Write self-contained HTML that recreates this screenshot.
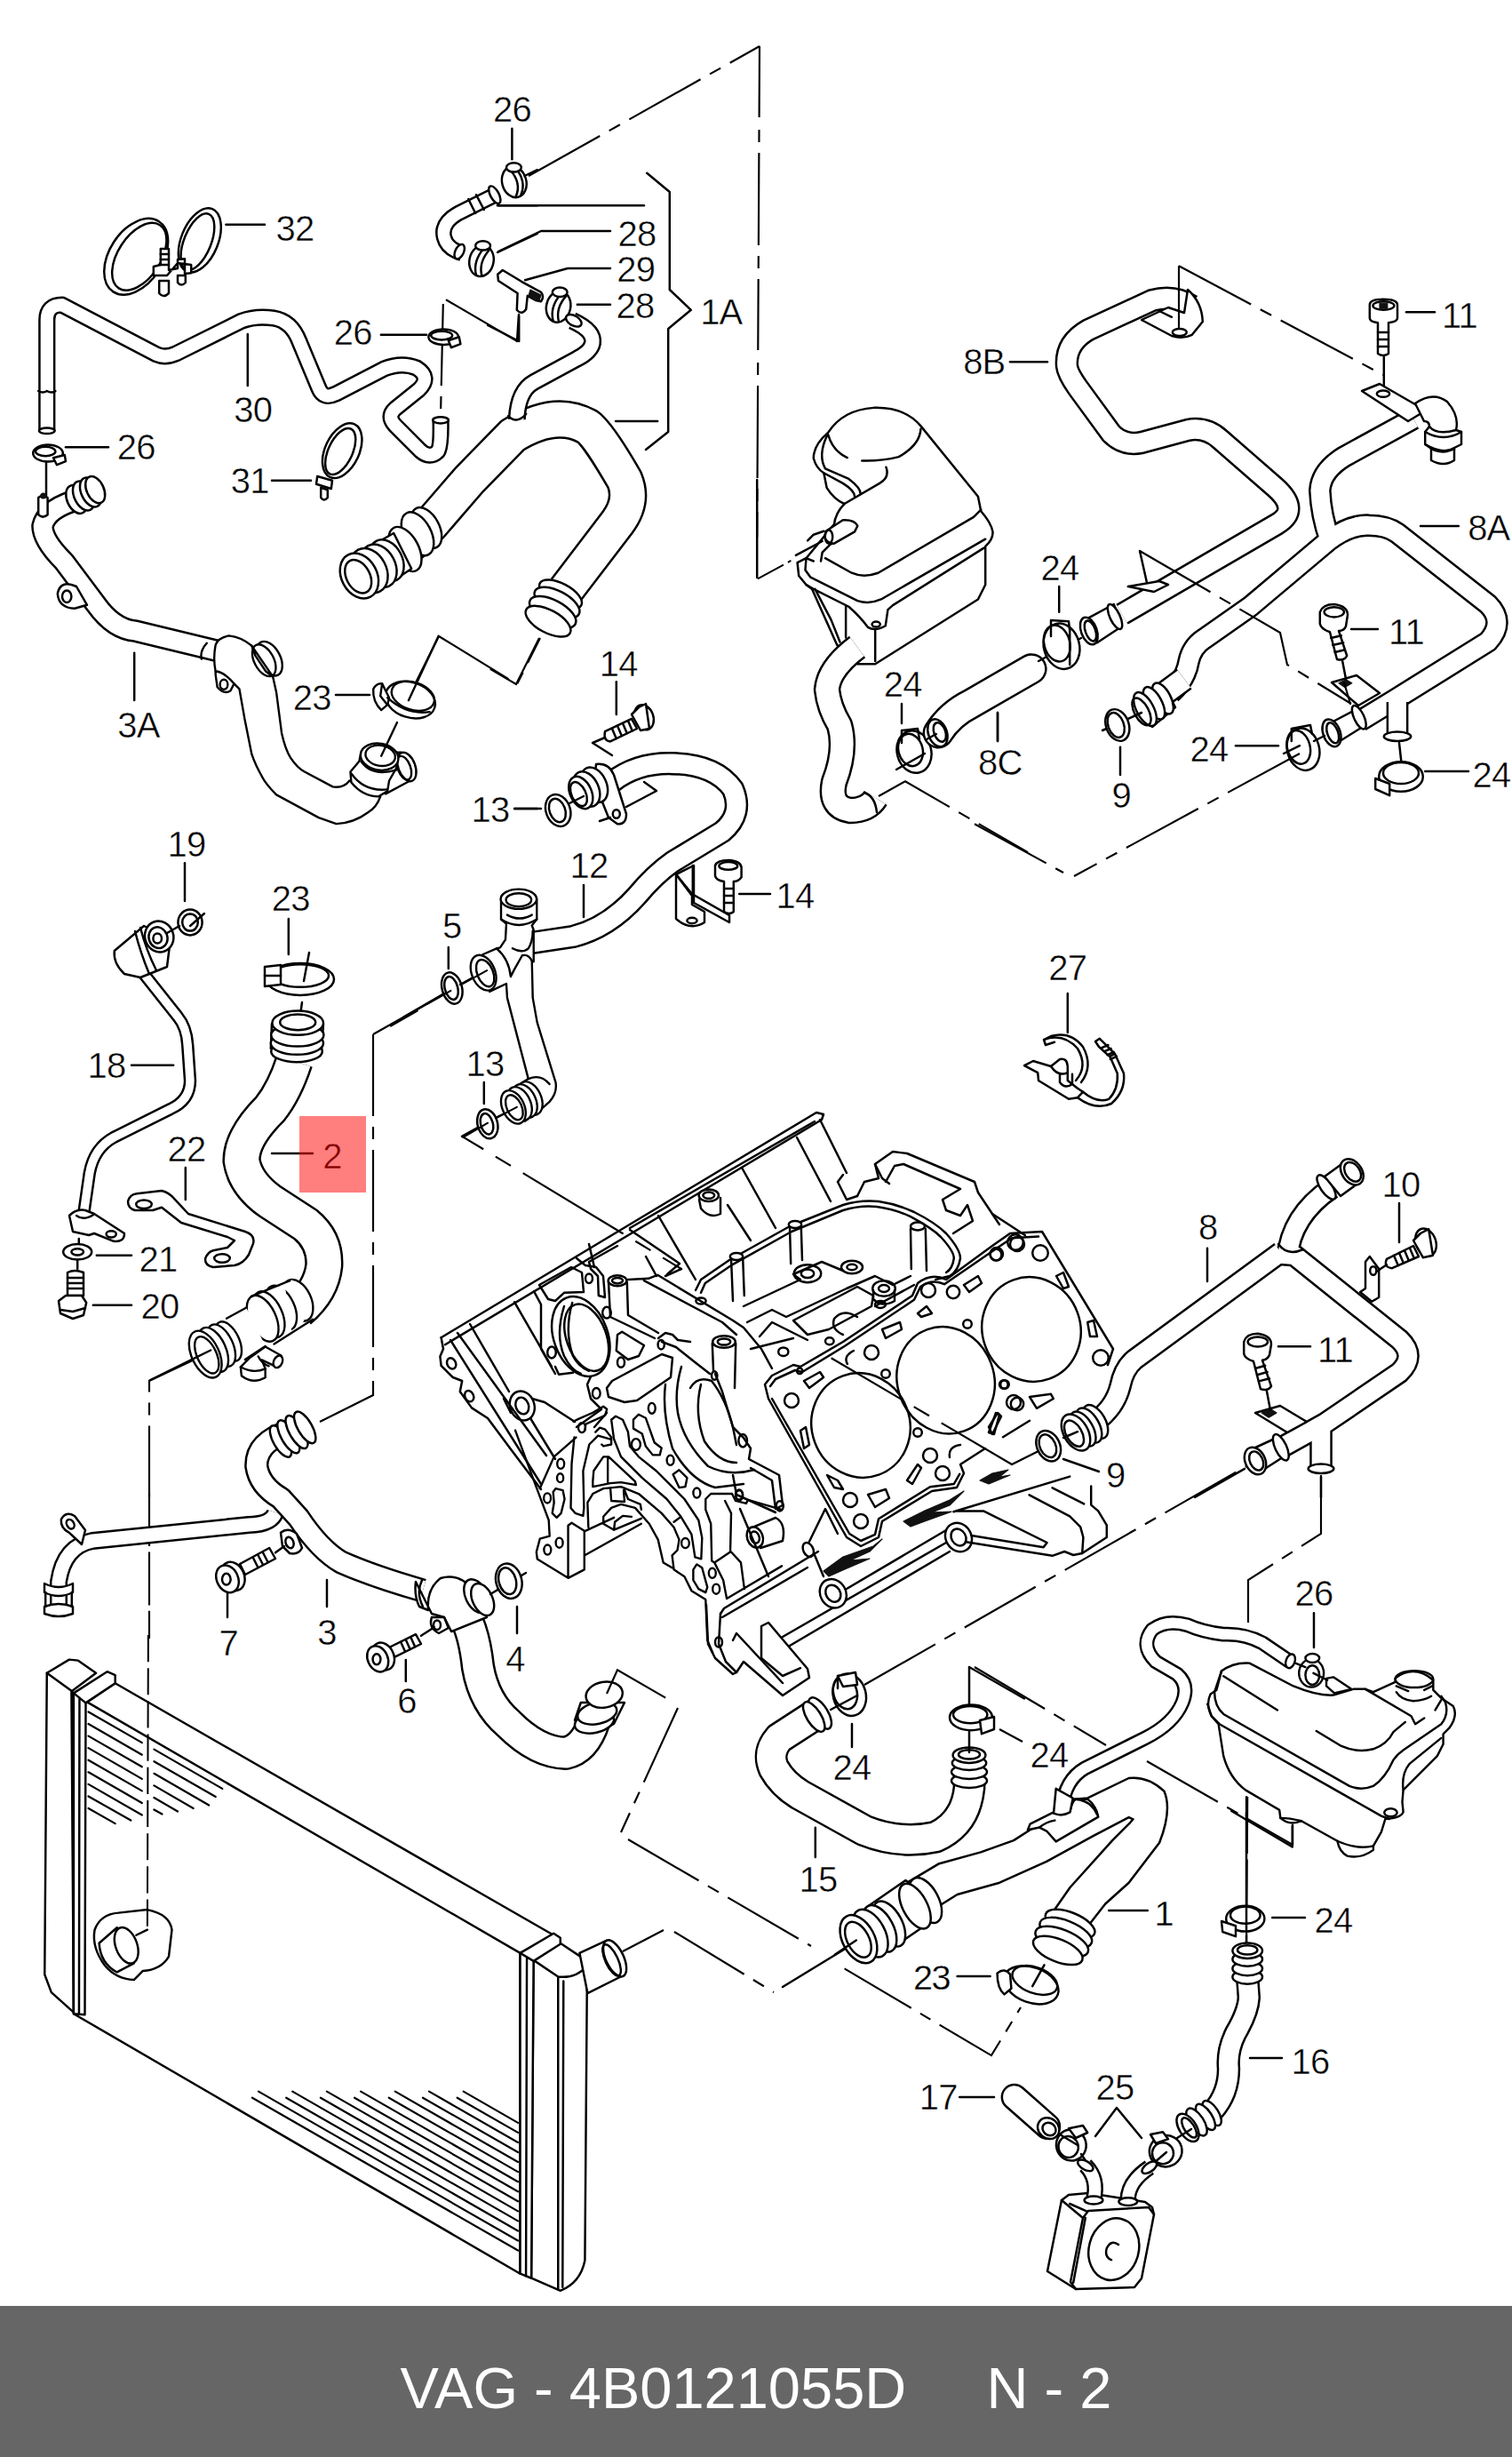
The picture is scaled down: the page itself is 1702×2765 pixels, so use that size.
<!DOCTYPE html>
<html><head><meta charset="utf-8"><title>VAG - 4B0121055D N - 2</title>
<style>
html,body{margin:0;padding:0;background:#fff;}
body{width:1702px;height:2765px;position:relative;overflow:hidden;font-family:"Liberation Sans",sans-serif;}
#dia{position:absolute;left:0;top:0;width:1702px;height:2595px;}
#foot{position:absolute;left:0;top:2595px;width:1702px;height:170px;background:#666;color:#fff;font-size:65px;line-height:185px;overflow:hidden;text-align:center;white-space:pre;}
svg text{font-family:"Liberation Sans",sans-serif;font-size:100px;fill:#000;letter-spacing:-2px;stroke:#fff;stroke-width:1.2px;}
.l{fill:none;stroke:#000;stroke-width:6.2;stroke-linecap:round;stroke-linejoin:round;}
.t{fill:none;stroke:#000;stroke-linecap:butt;stroke-linejoin:round;}
.w{fill:none;stroke:#fff;stroke-linecap:butt;stroke-linejoin:round;}
.f{fill:#fff;stroke:#000;stroke-width:6.2;stroke-linejoin:round;}
.k{fill:#111;stroke:#111;stroke-width:3;stroke-linejoin:round;}
.d{fill:none;stroke:#000;stroke-width:5.4;stroke-dasharray:230 30 35 30;}
</style></head><body>
<svg id="dia" viewBox="0 0 1702 2595" width="1702" height="2595">
<g transform="translate(0,0) scale(0.4)">
<text x="1441" y="342" text-anchor="middle">26</text>
<path class="l" d="M1441 362 V448"/>
<text x="830" y="677" text-anchor="middle">32</text>
<path class="l" d="M636 632 H745"/>
<text x="712" y="1187" text-anchor="middle">30</text>
<path class="l" d="M697 940 V1085"/>
<text x="993" y="969" text-anchor="middle">26</text>
<path class="l" d="M1072 942 H1200"/>
<text x="383" y="1292" text-anchor="middle">26</text>
<path class="l" d="M185 1258 H305"/>
<text x="703" y="1387" text-anchor="middle">31</text>
<path class="l" d="M765 1352 H875"/>
<path class="d" d="M1247 855 L1240 1170"/>
<path class="d" d="M1255 843 L1455 960"/>
<path class="l" d="M1460 885 L1455 960"/>
<path class="t" stroke-width="48" d="M132 1212 L132 900 Q132 858 175 858 L440 997 Q465 1008 495 995 L680 903 Q720 888 770 895 Q820 903 842 960 L897 1092 Q910 1125 945 1108 L1080 1038 Q1130 1018 1172 1035 Q1215 1062 1178 1097 L1112 1150 Q1088 1172 1112 1197 L1183 1268 Q1210 1292 1232 1270 Q1242 1255 1240 1180"/><path class="w" stroke-width="35.6" d="M132 1212 L132 900 Q132 858 175 858 L440 997 Q465 1008 495 995 L680 903 Q720 888 770 895 Q820 903 842 960 L897 1092 Q910 1125 945 1108 L1080 1038 Q1130 1018 1172 1035 Q1215 1062 1178 1097 L1112 1150 Q1088 1172 1112 1197 L1183 1268 Q1210 1292 1232 1270 Q1242 1255 1240 1180"/>
<path class="l" d="M108 1100 Q120 1108 132 1100 Q145 1108 156 1100"/>
<ellipse class="f" cx="1240" cy="1182" rx="22" ry="9"/>
<ellipse class="f" cx="132" cy="1212" rx="22" ry="8"/>
<ellipse class="f" cx="135" cy="1275" rx="42" ry="24"/>
<ellipse class="l" cx="128" cy="1270" rx="28" ry="13"/>
<path class="f" d="M150 1288 L182 1280 L185 1298 L160 1308 Z"/>
<path class="l" d="M130 1300 V1395"/>
<ellipse class="f" cx="1248" cy="948" rx="42" ry="22"/>
<ellipse class="l" cx="1243" cy="944" rx="30" ry="12"/>
<path class="f" d="M1262 958 L1292 948 L1296 968 L1270 978 Z"/>
<ellipse class="f" cx="1447" cy="512" rx="34" ry="44" transform="rotate(-15 1447 512)"/>
<path class="l" d="M1436 478 Q1468 515 1452 552 M1452 474 Q1482 512 1466 548"/>
<ellipse class="f" cx="1446" cy="471" rx="21" ry="13"/>
<path class="l" d="M1476 495 L1512 478"/>
<ellipse class="f" cx="383" cy="722" rx="75" ry="118" transform="rotate(33 383 722)"/>
<ellipse class="l" cx="392" cy="722" rx="60" ry="106" transform="rotate(33 392 722)"/>
<ellipse class="f" cx="562" cy="676" rx="52" ry="95" transform="rotate(22 562 676)"/>
<ellipse class="l" cx="556" cy="680" rx="38" ry="84" transform="rotate(22 556 680)"/>
<path class="f" d="M432 750 L452 745 L452 700 L475 700 L475 760 L500 755 L500 730 L520 728 L520 770 L538 768 L538 745 L500 740 L470 775 L432 775 Z"/>
<path class="f" d="M448 790 L448 825 Q460 840 475 825 L475 790 Z"/>
<path class="f" d="M500 775 L500 795 Q510 808 522 795 L522 775 Z"/>
<path class="l" d="M452 715 H475 M452 730 H475 M452 745 H475"/>
<ellipse class="f" cx="963" cy="1268" rx="48" ry="82" transform="rotate(25 963 1268)"/>
<ellipse class="l" cx="958" cy="1270" rx="34" ry="70" transform="rotate(25 958 1270)"/>
<path class="f" d="M893 1340 L935 1352 L932 1375 L890 1362 Z"/>
<path class="f" d="M903 1372 L903 1400 Q912 1412 922 1400 L922 1378 Z"/>
<path class="t" stroke-width="46" d="M1400 545 L1290 600 Q1240 628 1250 668 Q1258 700 1300 712"/><path class="w" stroke-width="33.6" d="M1400 545 L1290 600 Q1240 628 1250 668 Q1258 700 1300 712"/>
<ellipse class="f" cx="1293" cy="708" rx="12" ry="22" transform="rotate(25 1293 708)"/>
<ellipse class="f" cx="1392" cy="548" rx="12" ry="27" transform="rotate(-28 1392 548)"/>
<path class="l" d="M1318 560 L1338 600 M1340 548 L1362 590"/>
<path class="l" d="M1400 578 H1512"/>
<ellipse class="f" cx="1355" cy="734" rx="34" ry="44" transform="rotate(12 1355 734)"/>
<path class="l" d="M1362 698 Q1330 735 1340 774 M1378 702 Q1346 738 1356 776"/>
<ellipse class="f" cx="1359" cy="691" rx="21" ry="13"/>
<path class="l" d="M1400 710 L1512 657"/>
</g>
<g transform="translate(549,0) scale(0.4)">
<path class="d" d="M115 495 L765 130"/>
<path class="d" style="stroke-dasharray:200 35 35 30 260 30 35 30" d="M765 130 L758 1512"/>
<path class="l" d="M30 578 H440"/>
<text x="420" y="692" text-anchor="middle">28</text>
<path class="l" d="M30 708 L150 650 H345"/>
<text x="417" y="792" text-anchor="middle">29</text>
<path class="l" d="M105 788 L225 755 H345"/>
<text x="415" y="895" text-anchor="middle">28</text>
<path class="l" d="M252 857 H345"/>
<path class="l" d="M448 487 L512 540 V815 L572 872 L508 925 V1215 L445 1265"/>
<text x="657" y="912" text-anchor="middle">1A</text>
<path class="l" d="M360 1185 H478"/>
<text x="1397" y="1052" text-anchor="middle">8B</text>
<path class="f" d="M28 772 L42 760 L95 792 L150 822 Q160 835 150 848 L135 845 L112 832 L108 870 Q95 888 82 872 L84 825 L30 790 Z"/>
<path class="k" d="M120 815 L150 830 L145 845 L115 832 Z"/>
<path class="l" d="M88 890 V960 L0 915"/>
<ellipse class="f" cx="199" cy="863" rx="34" ry="44" transform="rotate(12 199 863)"/>
<path class="l" d="M206 827 Q174 864 184 903 M222 831 Q190 867 200 905"/>
<ellipse class="f" cx="203" cy="822" rx="21" ry="13"/>
<path class="t" stroke-width="108" d="M-262 1565 Q-200 1520 -160 1475 L-52 1350 L70 1225 Q190 1150 280 1200 Q310 1220 385 1350 Q410 1410 365 1470 L220 1660"/><path class="w" stroke-width="95.6" d="M-262 1565 Q-200 1520 -160 1475 L-52 1350 L70 1225 Q190 1150 280 1200 Q310 1220 385 1350 Q410 1410 365 1470 L220 1660"/>
<path class="t" stroke-width="50" d="M238 902 Q300 930 295 965 Q290 990 250 1010 L130 1075 Q85 1100 82 1180"/><path class="w" stroke-width="37.6" d="M238 902 Q300 930 295 965 Q290 990 250 1010 L130 1075 Q85 1100 82 1180"/>
<ellipse class="f" cx="242" cy="902" rx="14" ry="24" transform="rotate(-60 242 902)"/>
<path class="l" d="M58 1170 Q80 1195 108 1165"/>
</g>
<g transform="translate(1097,0) scale(0.4)">
<path class="l" d="M100 1018 H205"/>
<path class="t" stroke-width="66" d="M610 860 Q560 828 500 845 L320 928 Q255 965 260 1030 Q262 1050 290 1090 L385 1220 Q420 1255 470 1245 L600 1210 Q650 1200 690 1235 L845 1370 Q919 1435 850 1475 L415 1728"/><path class="w" stroke-width="53.6" d="M610 860 Q560 828 500 845 L320 928 Q255 965 260 1030 Q262 1050 290 1090 L385 1220 Q420 1255 470 1245 L600 1210 Q650 1200 690 1235 L845 1370 Q919 1435 850 1475 L415 1728"/>
<path class="f" d="M470 900 L555 945 Q585 955 612 942 L642 905 Q640 850 600 815 L590 880 L545 865 Z"/>
<ellipse class="l" cx="577" cy="935" rx="20" ry="10"/>
<path class="l" d="M520 875 L555 892"/>
<path class="d" d="M575 748 V925"/>
<path class="d" d="M575 748 L1150 1055"/>
<path class="f" d="M1112 858 Q1112 842 1150 842 Q1190 842 1190 858 V895 Q1190 905 1165 908 V995 Q1150 1005 1135 995 V908 Q1112 905 1112 895 Z"/>
<ellipse class="l" cx="1151" cy="860" rx="30" ry="12"/>
<path class="k" d="M1140 853 H1162 V868 H1140 Z"/>
<path class="l" d="M1135 935 H1165 M1135 955 H1165 M1135 975 H1165"/>
<path class="l" d="M1152 1005 V1100"/>
<text x="1365" y="922" text-anchor="middle">11</text>
<path class="l" d="M1215 878 H1295"/>
</g>
<g transform="translate(0,540) scale(0.4)">
<path class="t" stroke-width="64" d="M205 60 Q130 85 120 130 Q120 170 180 230 L270 350 Q320 420 380 425 L615 482"/><path class="w" stroke-width="51.6" d="M205 60 Q130 85 120 130 Q120 170 180 230 L270 350 Q320 420 380 425 L615 482"/>
<ellipse class="f" cx="215" cy="55" rx="26" ry="42" transform="rotate(-25 215 55)"/>
<ellipse class="f" cx="235" cy="45" rx="26" ry="44" transform="rotate(-25 235 45)"/>
<ellipse class="f" cx="255" cy="35" rx="26" ry="44" transform="rotate(-25 255 35)"/>
<ellipse class="f" cx="268" cy="28" rx="24" ry="40" transform="rotate(-25 268 28)"/>
<path class="f" d="M108 50 L108 98 Q120 110 134 98 L134 50 Q120 40 108 50 Z"/>
<circle cx="122" cy="45" r="9" fill="#111"/>
<path class="f" d="M215 300 Q170 280 162 320 Q165 360 210 362 L245 352 Z"/>
<ellipse class="l" cx="188" cy="328" rx="13" ry="17"/>
<text x="390" y="725" text-anchor="middle">3A</text>
<path class="l" d="M378 487 V620"/>
<text x="878" y="647" text-anchor="middle">23</text>
<path class="l" d="M945 605 H1040"/>
<path class="d" d="M1235 440 L1150 610"/>
<path class="d" d="M1235 440 L1455 575 L1520 445"/>
<ellipse class="f" cx="1200" cy="135" rx="36" ry="62" transform="rotate(-28 1200 135)"/>
<ellipse class="f" cx="1175" cy="152" rx="38" ry="66" transform="rotate(-28 1175 152)"/>
<ellipse class="f" cx="1140" cy="195" rx="38" ry="68" transform="rotate(-28 1140 195)"/>
<path class="f" d="M1108 150 L1158 250 L1105 285 L1055 180 Z"/>
<ellipse class="f" cx="1088" cy="227" rx="44" ry="62" transform="rotate(-28 1088 227)"/>
<ellipse class="f" cx="1066" cy="242" rx="46" ry="64" transform="rotate(-28 1066 242)"/>
<ellipse class="f" cx="1039" cy="255" rx="48" ry="66" transform="rotate(-28 1039 255)"/>
<ellipse class="f" cx="1011" cy="270" rx="50" ry="67" transform="rotate(-28 1011 270)"/>
<ellipse class="l" cx="1008" cy="272" rx="33" ry="50" transform="rotate(-28 1008 272)"/>
<text x="1380" y="962" text-anchor="middle">13</text>
<path class="l" d="M1448 925 H1512"/>
<text x="525" y="1059" text-anchor="middle">19</text>
<path class="l" d="M520 1078 V1185"/>
<ellipse class="l" cx="535" cy="1245" rx="34" ry="36"/>
<ellipse class="l" cx="535" cy="1245" rx="22" ry="24"/>
<path class="l" d="M535 1255 L575 1220"/>
<text x="818" y="1212" text-anchor="middle">23</text>
<path class="l" d="M812 1235 V1335"/>
<ellipse class="f" cx="845" cy="1405" rx="95" ry="45"/>
<ellipse class="l" cx="845" cy="1395" rx="80" ry="32"/>
<path class="f" d="M745 1370 L790 1365 L790 1420 L745 1425 Z"/>
<path class="l" d="M745 1395 H790"/>
<path class="l" d="M870 1330 L855 1410"/>
<text x="1272" y="1289" text-anchor="middle">5</text>
<path class="l" d="M1262 1315 V1375"/>
<ellipse class="f" cx="1272" cy="1430" rx="28" ry="45" transform="rotate(-15 1272 1430)"/>
<ellipse class="l" cx="1270" cy="1430" rx="18" ry="33" transform="rotate(-15 1270 1430)"/>
<path class="l" d="M1135 1512 L1250 1445 M1295 1420 L1340 1395"/>
</g>
<g transform="translate(200,690) scale(0.1984)">
<path class="f" style="stroke-width:12" d="M215 180 Q230 140 290 128 Q360 135 420 185 L540 360 L560 450 L590 680 Q610 770 640 820 Q680 880 720 900 L880 985 Q940 995 975 950 L1150 1040 Q1130 1100 1080 1130 Q1000 1190 900 1195 L800 1160 L560 1030 Q500 970 480 930 Q440 860 420 800 L380 600 L350 430 L320 400 L300 440 Q265 465 225 420 L215 350 L215 330 Q200 260 215 180 Z"/>
<path class="l" style="stroke-width:12" d="M165 170 Q125 215 135 260 M215 330 Q260 330 320 400"/>
<ellipse class="l" style="stroke-width:12" cx="262" cy="405" rx="22" ry="28"/>
<ellipse class="f" style="stroke-width:12" cx="520" cy="258" rx="62" ry="105" transform="rotate(-28 520 258)"/>
<ellipse class="f" style="stroke-width:12" cx="490" cy="268" rx="55" ry="98" transform="rotate(-28 490 268)"/>
<path class="f" style="stroke-width:12" d="M420 185 L540 360 L500 330 L440 240 Z"/>
<path class="f" style="stroke-width:12" d="M1040 790 L1030 840 L980 900 L985 960 Q1050 1040 1140 1040 L1190 1010 L1200 950 L1240 880 L1250 820 Z"/>
<path class="l" style="stroke-width:12" d="M1040 840 Q1100 930 1240 890 M985 910 Q1060 1015 1190 1000 M1180 1025 L1310 955 M1230 790 L1270 790"/>
<ellipse class="f" style="stroke-width:12" cx="1300" cy="872" rx="48" ry="85" transform="rotate(-20 1300 872)"/>
<ellipse class="l" style="stroke-width:12" cx="1285" cy="878" rx="36" ry="70" transform="rotate(-20 1285 878)"/>
<ellipse class="f" style="stroke-width:12" cx="1145" cy="815" rx="108" ry="75" transform="rotate(10 1145 815)"/>
<ellipse class="l" style="stroke-width:12" cx="1150" cy="808" rx="85" ry="58" transform="rotate(10 1150 808)"/>
<ellipse class="f" style="stroke-width:12" cx="1320" cy="492" rx="145" ry="100" transform="rotate(18 1320 492)"/>
<ellipse class="l" style="stroke-width:12" cx="1335" cy="470" rx="125" ry="78" transform="rotate(18 1335 470)"/>
<path class="f" style="stroke-width:12" d="M1110 430 Q1130 395 1160 400 L1200 480 L1190 520 L1155 550 Q1105 500 1110 430 Z"/>
<path class="l" style="stroke-width:12" d="M1160 400 L1150 470 L1190 520 M1245 620 L1155 810 M1480 130 L1310 495 M1190 480 Q1300 580 1430 560"/>
</g>
<g transform="translate(800,400) scale(0.3307)">
<path class="f" style="stroke-width:7.5" d="M400 262 Q350 305 350 350 Q360 385 385 400 L395 450 Q420 490 455 505 Q425 535 420 575 L325 690 L295 705 L300 750 L325 780 L345 795 L430 985 L500 1050 L560 1050 L910 830 L935 780 V650 Q962 625 960 600 Q955 570 920 530 L910 480 L715 240 Q660 175 555 178 Q450 185 400 262 Z"/>
<path class="l" style="stroke-width:7.5" d="M715 250 Q712 305 640 345 Q580 360 515 358 M400 270 Q415 325 465 348 M395 275 Q365 340 390 385 L470 420 Q510 450 510 470 M385 400 L450 435 Q490 460 490 480 M597 380 Q610 415 575 435 L455 505 M920 525 L895 550 L570 740 Q520 758 480 740 L390 690 M325 690 L322 730 L340 755 L500 835 Q540 848 580 830 L935 625 M325 780 L350 795 L470 855 Q510 890 535 925 Q560 940 595 920 L603 865 L620 850 L930 655 M355 795 L410 900 L440 975 M460 855 V960 M560 935 V1040 M375 700 L380 670 L405 645 L490 595 M330 630 L350 610 L385 598 M290 680 L380 632 M325 690 L350 700"/>
<path class="f" style="stroke-width:7.5" d="M392 598 L450 560 Q490 558 500 580 L490 600 L420 640 Q395 640 388 618 Z"/>
<ellipse class="l" style="stroke-width:7.5" cx="402" cy="617" rx="13" ry="23"/>
<ellipse class="l" style="stroke-width:7.5" cx="563" cy="915" rx="14" ry="9"/>
<path class="d" style="stroke-width:6;stroke-dasharray:100 17 12 17" d="M160 760 L285 692"/>
</g>
<g transform="translate(549,540) scale(0.4)">
<path class="l" d="M758 0 V275"/>
</g>
<g transform="translate(549,540) scale(0.4)">
<ellipse class="f" cx="205" cy="322" rx="66" ry="30" transform="rotate(28 205 322)"/>
<ellipse class="f" cx="195" cy="345" rx="70" ry="32" transform="rotate(28 195 345)"/>
<ellipse class="f" cx="183" cy="372" rx="72" ry="33" transform="rotate(28 183 372)"/>
<ellipse class="f" cx="170" cy="398" rx="70" ry="32" transform="rotate(28 170 398)"/>
<path class="d" d="M145 445 L80 575 L0 528"/>
<text x="368" y="552" text-anchor="middle">14</text>
<path class="l" d="M362 568 V660"/>
<path class="f" d="M330 708 L405 672 L420 700 L345 736 Q325 735 330 708 Z"/>
<path class="l" d="M350 700 L362 728 M365 692 L377 720 M380 685 L392 713 M395 678 L407 706"/>
<ellipse class="f" cx="440" cy="668" rx="26" ry="36" transform="rotate(-20 440 668)"/>
<path class="f" d="M405 660 L425 640 L445 630 L455 700 L430 705 Z"/>
<path class="l" d="M295 740 L350 775 M295 740 L330 725"/>
<path class="t" stroke-width="66" d="M350 850 Q420 795 520 798 Q640 800 690 870 Q720 940 660 990 L520 1075 Q470 1110 420 1170 Q340 1260 240 1285 L120 1303"/><path class="w" stroke-width="53.6" d="M350 850 Q420 795 520 798 Q640 800 690 870 Q720 940 660 990 L520 1075 Q470 1110 420 1170 Q340 1260 240 1285 L120 1303"/>
<path class="f" d="M305 800 Q340 795 355 830 L390 940 Q390 970 365 968 L340 950 L300 850 Z"/>
<ellipse class="f" cx="300" cy="858" rx="34" ry="52" transform="rotate(-25 300 858)"/>
<ellipse class="f" cx="278" cy="870" rx="34" ry="52" transform="rotate(-25 278 870)"/>
<ellipse class="f" cx="262" cy="880" rx="30" ry="48" transform="rotate(-25 262 880)"/>
<ellipse class="l" cx="256" cy="884" rx="20" ry="36" transform="rotate(-25 256 884)"/>
<ellipse class="l" cx="362" cy="940" rx="10" ry="12"/>
<path class="l" d="M220 915 L270 890"/>
<ellipse class="f" cx="198" cy="930" rx="34" ry="46" transform="rotate(-20 198 930)"/>
<ellipse class="l" cx="196" cy="930" rx="22" ry="34" transform="rotate(-20 196 930)"/>
<path class="l" d="M75 925 H150"/>
<path class="l" d="M390 920 L475 875 L440 850 M315 960 L345 950"/>
<text x="285" y="1119" text-anchor="middle">12</text>
<path class="l" d="M270 1140 V1230"/>
<path class="f" d="M530 1110 L580 1085 L580 1190 L680 1245 L680 1225 L575 1165 Z"/>
<path class="f" d="M530 1110 V1235 Q570 1270 610 1245 L610 1215 L575 1195 V1170 Z"/>
<ellipse class="l" cx="575" cy="1240" rx="14" ry="8"/>
<path class="l" d="M577 1085 V1165"/>
<path class="f" d="M640 1085 Q645 1070 678 1070 Q712 1072 714 1090 V1118 Q705 1130 692 1130 V1215 Q680 1225 665 1215 V1130 Q645 1128 640 1115 Z"/>
<ellipse class="l" cx="677" cy="1086" rx="26" ry="11"/>
<path class="l" d="M665 1150 H692 M665 1170 H692 M665 1190 H692"/>
<text x="865" y="1205" text-anchor="middle">14</text>
<path class="l" d="M708 1165 H795"/>
<path class="t" stroke-width="76" d="M1040 470 Q960 530 955 590 Q960 640 990 690 Q1010 760 975 850 Q960 920 1020 930 Q1070 930 1092 895"/><path class="w" stroke-width="63.6" d="M1040 470 Q960 530 955 590 Q960 640 990 690 Q1010 760 975 850 Q960 920 1020 930 Q1070 930 1092 895"/>
<path class="l" d="M1060 880 Q1090 890 1095 935"/>
<text x="1168" y="610" text-anchor="middle">24</text>
<path class="l" d="M1165 630 V685"/>
<ellipse class="f" cx="1200" cy="765" rx="48" ry="60" transform="rotate(-15 1200 765)"/>
<ellipse class="l" cx="1190" cy="760" rx="34" ry="46" transform="rotate(-15 1190 760)"/>
<path class="l" d="M1165 705 L1210 700 L1215 730 M1165 705 V740"/>
<path class="l" d="M1150 815 L1230 770"/>
<path class="t" style="stroke-linecap:round" stroke-width="88" d="M1268 712 Q1300 660 1360 630 L1530 532"/><path class="w" style="stroke-linecap:round" stroke-width="75.6" d="M1268 712 Q1300 660 1360 630 L1530 532"/>
<ellipse class="f" cx="1266" cy="712" rx="26" ry="40" transform="rotate(-20 1266 712)"/>
<ellipse class="l" cx="1272" cy="710" rx="16" ry="28" transform="rotate(-20 1272 710)"/>
<path class="l" d="M1235 730 L1262 715"/>
<path class="l" d="M1435 655 V735"/>
<path class="d" d="M1100 890 L1175 848 L1520 1048"/>
</g>
<g transform="translate(1097,540) scale(0.4)">
<path class="t" stroke-width="64" d="M1235 -172 L1040 -65 Q975 -25 972 30 Q975 100 1000 170"/><path class="t" stroke-width="64" d="M1000 168 Q1060 125 1110 128 Q1160 128 1190 150 L1445 350 Q1495 400 1445 455 L1180 620 L1085 678"/><path class="t" stroke-width="64" d="M1015 155 L775 357 L645 448 Q612 470 603 510 Q595 560 552 600"/><path class="w" stroke-width="51.6" d="M1235 -172 L1040 -65 Q975 -25 972 30 Q975 100 1000 170"/><path class="w" stroke-width="51.6" d="M1000 168 Q1060 125 1110 128 Q1160 128 1190 150 L1445 350 Q1495 400 1445 455 L1180 620 L1085 678"/><path class="w" stroke-width="51.6" d="M1015 155 L775 357 L645 448 Q612 470 603 510 Q595 560 552 600"/>
<path class="t" stroke-width="62" d="M1190 625 V722"/><path class="w" stroke-width="49.6" d="M1190 625 V722"/>
<ellipse class="f" cx="1190" cy="722" rx="38" ry="13"/>
<path class="f" d="M1005 570 L1075 550 L1140 600 L1080 635 Z"/>
<path class="k" d="M1025 572 L1045 562 L1062 572 L1042 584 Z"/>
<path class="d" d="M1040 570 L1058 632"/>
<path class="f" d="M972 372 Q980 350 1012 350 Q1050 355 1050 380 L1045 412 Q1040 425 1025 425 L1048 495 Q1040 510 1020 505 L1000 428 Q975 420 972 405 Z"/>
<ellipse class="l" cx="1012" cy="372" rx="28" ry="14"/>
<path class="l" d="M1003 445 L1032 438 M1008 465 L1038 458 M1014 485 L1042 478"/>
<path class="l" d="M1035 508 L1045 560"/>
<text x="1215" y="462" text-anchor="middle">11</text>
<path class="l" d="M1060 420 H1135"/>
<text x="1447" y="169" text-anchor="middle">8A</text>
<path class="l" d="M1255 130 H1362"/>
<path class="d" d="M465 200 L860 430 L880 520 L1060 630"/>
<path class="l" d="M465 200 L487 298"/>
<path class="f" d="M432 300 L520 285 L545 295 L505 315 Z"/>
<path class="f" d="M322 388 L392 350 L415 412 L345 458 Z"/>
<ellipse class="f" cx="395" cy="385" rx="14" ry="38" transform="rotate(-25 395 385)"/>
<ellipse class="f" cx="322" cy="425" rx="22" ry="40" transform="rotate(-20 322 425)"/>
<ellipse class="l" cx="326" cy="425" rx="14" ry="30" transform="rotate(-20 326 425)"/>
<path class="l" d="M180 510 L300 445"/>
<text x="240" y="282" text-anchor="middle">24</text>
<path class="l" d="M238 300 V372"/>
<ellipse class="f" cx="245" cy="468" rx="50" ry="65" transform="rotate(-15 245 468)"/>
<ellipse class="l" cx="232" cy="460" rx="36" ry="52" transform="rotate(-15 232 460)"/>
<path class="l" d="M215 395 L265 398 L268 425 M215 395 V440"/>
<path class="l" d="M268 425 V520"/>
<text x="72" y="829" text-anchor="middle">8C</text>
<path class="l" d="M65 655 V735"/>
<path class="t" stroke-width="72" d="M590 560 L520 612"/><path class="w" stroke-width="59.6" d="M590 560 L520 612"/>
<path class="f" d="M470 655 L540 590 L565 640 L500 695 Z"/>
<ellipse class="f" cx="530" cy="615" rx="22" ry="48" transform="rotate(-28 530 615)"/>
<ellipse class="f" cx="505" cy="628" rx="22" ry="50" transform="rotate(-28 505 628)"/>
<ellipse class="f" cx="480" cy="645" rx="24" ry="52" transform="rotate(-28 480 645)"/>
<ellipse class="l" cx="470" cy="652" rx="20" ry="42" transform="rotate(-28 470 652)"/>
<path class="l" d="M360 705 L470 655"/>
<ellipse class="f" cx="402" cy="690" rx="32" ry="46" transform="rotate(-20 402 690)"/>
<ellipse class="l" cx="398" cy="690" rx="22" ry="36" transform="rotate(-20 398 690)"/>
<text x="413" y="922" text-anchor="middle">9</text>
<path class="l" d="M410 752 V830"/>
<text x="660" y="792" text-anchor="middle">24</text>
<path class="l" d="M735 748 H855"/>
<ellipse class="f" cx="925" cy="758" rx="45" ry="60" transform="rotate(-15 925 758)"/>
<ellipse class="l" cx="912" cy="752" rx="32" ry="48" transform="rotate(-15 912 752)"/>
<path class="l" d="M892 700 L945 690 L950 715 M892 700 V735"/>
<path class="l" d="M870 770 L915 748"/>
<path class="f" d="M990 690 L1075 645 L1100 690 L1020 740 Z"/>
<ellipse class="f" cx="1082" cy="668" rx="14" ry="36" transform="rotate(-25 1082 668)"/>
<ellipse class="f" cx="1005" cy="712" rx="24" ry="40" transform="rotate(-20 1005 712)"/>
<ellipse class="l" cx="1008" cy="712" rx="15" ry="30" transform="rotate(-20 1008 712)"/>
<path class="l" d="M955 735 L985 720"/>
<path class="l" d="M1195 740 L1205 830"/>
<ellipse class="f" cx="1200" cy="835" rx="62" ry="42"/>
<ellipse class="l" cx="1200" cy="825" rx="50" ry="30"/>
<path class="f" d="M1128 840 L1168 855 L1168 888 L1128 870 Z"/>
<text x="1455" y="865" text-anchor="middle">24</text>
<path class="l" d="M1268 820 H1390"/>
<path class="d" d="M915 770 L280 1115"/>
<path class="d" d="M0 968 L250 1105"/>
<text x="262" y="1407" text-anchor="middle">27</text>
</g>
<g transform="translate(1097,0) scale(0.4)">
<path class="f" d="M1090 1100 L1140 1080 L1270 1155 L1220 1185 Z"/>
<ellipse class="l" cx="1150" cy="1108" rx="18" ry="9"/>
<path class="f" d="M1240 1135 Q1290 1100 1330 1130 Q1365 1170 1355 1210 L1370 1215 V1250 L1350 1260 V1295 Q1320 1315 1285 1295 V1262 L1268 1250 V1215 L1280 1200 Q1280 1185 1265 1185 Z"/>
<path class="l" d="M1268 1215 Q1320 1245 1370 1215 M1268 1250 Q1320 1280 1350 1260 M1285 1262 Q1320 1280 1350 1262"/>
<path class="l" d="M1280 1200 Q1300 1225 1355 1210"/>
</g>
<g transform="translate(0,1080) scale(0.4)">
<path class="t" stroke-width="36" d="M385 15 L500 160 Q525 190 528 240 L535 340 Q535 395 480 420 L320 500 Q265 530 252 600 L235 718"/><path class="w" stroke-width="23.6" d="M385 15 L500 160 Q525 190 528 240 L535 340 Q535 395 480 420 L320 500 Q265 530 252 600 L235 718"/>
<path class="f" d="M322 -25 L405 -95 L480 -60 L470 20 L395 50 L350 40 Q318 10 322 -25 Z"/>
<ellipse class="f" cx="448" cy="-65" rx="40" ry="44" transform="rotate(-20 448 -65)"/>
<ellipse class="l" cx="445" cy="-62" rx="26" ry="30" transform="rotate(-20 445 -62)"/>
<ellipse class="l" cx="443" cy="-60" rx="12" ry="14"/>
<path class="l" d="M380 -80 Q395 -20 420 40 M395 -90 Q412 -25 440 30"/>
<path class="l" d="M470 -75 L505 -95"/>
<path class="f" d="M195 720 Q215 700 240 705 L265 715 L350 770 Q350 795 320 792 L265 770 L250 775 L205 765 Z"/>
<ellipse class="l" cx="313" cy="772" rx="14" ry="9"/>
<path class="l" d="M215 720 Q235 735 262 718"/>
<text x="300" y="332" text-anchor="middle">18</text>
<path class="l" d="M370 297 H488"/>
<path class="l" d="M222 785 V805"/>
<ellipse class="f" cx="218" cy="822" rx="40" ry="22"/>
<ellipse class="l" cx="218" cy="822" rx="17" ry="9"/>
<path class="l" d="M218 845 V870"/>
<path class="f" d="M190 880 Q210 870 235 880 V945 H190 Z"/>
<path class="l" d="M190 895 H235 M190 910 H235 M190 925 H235"/>
<path class="f" d="M165 960 L185 945 H230 L243 965 L235 1000 L205 1010 L170 995 Z"/>
<path class="l" d="M170 985 L205 990 L240 980"/>
<text x="445" y="877" text-anchor="middle">21</text>
<path class="l" d="M272 832 H370"/>
<text x="450" y="1010" text-anchor="middle">20</text>
<path class="l" d="M262 972 H370"/>
<text x="525" y="567" text-anchor="middle">22</text>
<path class="l" d="M522 585 V675"/>
<path class="f" d="M360 680 Q365 660 385 658 L455 650 Q475 655 490 672 L530 715 L690 765 Q720 775 712 800 L700 830 Q685 855 660 860 L600 865 Q575 860 578 840 Q585 822 600 818 L640 810 L660 790 L640 780 L510 740 L455 697 L430 705 L380 705 Q360 700 360 680 Z"/>
<ellipse class="l" cx="405" cy="688" rx="22" ry="12"/>
<ellipse class="l" cx="625" cy="840" rx="22" ry="12"/>
<path class="l" d="M850 120 L840 190"/>
<path class="t" stroke-width="108" d="M828 285 Q800 370 760 420 Q680 500 680 565 Q690 630 760 680 L860 745 Q915 790 912 860 Q905 930 840 985"/><path class="w" stroke-width="95.6" d="M828 285 Q800 370 760 420 Q680 500 680 565 Q690 630 760 680 L860 745 Q915 790 912 860 Q905 930 840 985"/>
<path class="f" d="M765 180 L762 250 Q835 300 905 255 L910 180 Z"/>
<ellipse class="f" cx="835" cy="258" rx="72" ry="30"/>
<ellipse class="f" cx="836" cy="235" rx="74" ry="32"/>
<ellipse class="f" cx="837" cy="212" rx="74" ry="32"/>
<ellipse class="f" cx="838" cy="178" rx="72" ry="34"/>
<ellipse class="l" cx="838" cy="176" rx="50" ry="22"/>
<text x="935" y="587" text-anchor="middle">2</text>
<path class="l" d="M765 545 H880"/>
<path class="d" d="M1050 210 V1225 L900 1300"/>
<path class="d" d="M1050 210 L1245 100"/>
<path class="d" d="M600 1100 L420 1185 V1512"/>
<text x="1365" y="327" text-anchor="middle">13</text>
<path class="l" d="M1362 345 V405"/>
<ellipse class="f" cx="1372" cy="462" rx="28" ry="42" transform="rotate(-15 1372 462)"/>
<ellipse class="l" cx="1370" cy="462" rx="17" ry="30" transform="rotate(-15 1370 462)"/>
<path class="l" d="M1395 445 L1450 418"/>
<path class="l" d="M1300 497 L1345 472"/>
</g>
<g transform="translate(440,980) scale(0.1984)">
<path class="f" style="stroke-width:12" d="M655 640 L660 720 L780 1180 L700 1230 L760 1420 L860 1345 L900 1310 Q945 1260 935 1200 L830 860 L805 720 L800 510 L810 515 L810 335 L800 310 L828 275 V160 H625 V275 L655 300 L650 390 L620 435 L600 440 L520 475 L560 685 Z"/>
<path class="l" style="stroke-width:12" d="M625 275 Q725 340 828 275 M660 250 Q730 290 800 250 M690 440 Q745 470 780 440 Q805 400 805 340 M745 480 L700 560 L680 600 M600 440 Q670 500 680 600 M800 510 Q780 470 745 480 M780 1180 Q850 1150 900 1210"/>
<ellipse class="f" style="stroke-width:12" cx="725" cy="160" rx="102" ry="56"/>
<ellipse class="l" style="stroke-width:12" cx="725" cy="165" rx="72" ry="38"/>
<ellipse class="f" style="stroke-width:12" cx="525" cy="578" rx="66" ry="105" transform="rotate(-22 525 578)"/>
<ellipse class="l" style="stroke-width:12" cx="535" cy="580" rx="45" ry="80" transform="rotate(-22 535 580)"/>
<ellipse class="f" style="stroke-width:12" cx="790" cy="1290" rx="62" ry="100" transform="rotate(-25 790 1290)"/>
<ellipse class="f" style="stroke-width:12" cx="760" cy="1305" rx="62" ry="100" transform="rotate(-25 760 1305)"/>
<ellipse class="f" style="stroke-width:12" cx="730" cy="1320" rx="62" ry="100" transform="rotate(-25 730 1320)"/>
<ellipse class="f" style="stroke-width:12" cx="695" cy="1340" rx="62" ry="100" transform="rotate(-25 695 1340)"/>
<ellipse class="l" style="stroke-width:12" cx="700" cy="1342" rx="42" ry="75" transform="rotate(-25 700 1342)"/>
<path class="l" style="stroke-width:10" d="M0 880 L150 795 M205 755 L340 680 M410 640 L545 565 M410 1512 L550 1430 M600 1400 L715 1340"/>
</g>
<g transform="translate(130,1330) scale(0.1984)">
<path fill="#fff" stroke="none" d="M770 650 L990 560 L1030 560 Q1110 620 1125 760 L1120 780 L900 920 L850 930 L740 1005 L640 1075 L560 1105 L440 1000 L440 850 L560 775 L620 770 L740 710 Z"/>
<ellipse class="f" style="stroke-width:12" cx="1035" cy="672" rx="75" ry="125" transform="rotate(-25 1035 672)"/>
<path fill="#fff" stroke="none" d="M770 650 L1000 555 L1070 790 L900 920 Z"/>
<ellipse class="f" style="stroke-width:12" cx="940" cy="715" rx="75" ry="135" transform="rotate(-25 940 715)"/>
<path fill="#fff" stroke="none" d="M770 650 L960 580 L1000 850 L900 920 Z"/>
<ellipse class="f" style="stroke-width:12" cx="870" cy="752" rx="75" ry="140" transform="rotate(-25 870 752)"/>
<ellipse class="f" style="stroke-width:12" cx="835" cy="775" rx="75" ry="140" transform="rotate(-25 835 775)"/>
<path class="l" style="stroke-width:12" d="M770 650 L990 560 M900 920 L1120 780"/>
<path fill="#fff" stroke="none" d="M620 770 L740 710 L850 930 L740 1005 Z"/><path class="l" style="stroke-width:12" d="M630 775 L745 712 M735 1008 L850 932"/>
<ellipse class="f" style="stroke-width:12" cx="640" cy="905" rx="62" ry="120" transform="rotate(-25 640 905)"/>
<ellipse class="f" style="stroke-width:12" cx="600" cy="928" rx="66" ry="128" transform="rotate(-25 600 928)"/>
<ellipse class="f" style="stroke-width:12" cx="555" cy="952" rx="70" ry="135" transform="rotate(-25 555 952)"/>
<ellipse class="f" style="stroke-width:12" cx="510" cy="978" rx="78" ry="142" transform="rotate(-25 510 978)"/>
<ellipse class="l" style="stroke-width:12" cx="518" cy="982" rx="55" ry="112" transform="rotate(-25 518 982)"/>
<path class="f" style="stroke-width:12" d="M850 935 L940 985 L915 1050 L830 1010 L850 1060 L850 1110 Q780 1150 715 1100 L710 1050 L760 1000 Z"/>
<ellipse class="f" style="stroke-width:12" cx="922" cy="1020" rx="24" ry="36" transform="rotate(25 922 1020)"/>
<path class="l" style="stroke-width:12" d="M710 1050 Q780 1090 850 1060 M810 990 Q830 1030 870 1045 M540 955 L195 1125"/>
</g>
<g transform="translate(549,1350) scale(0.4)">
<path class="l" d="M-131 388 L925 -245 L945 -240 L940 -225 L-120 408"/>
<path class="l" d="M-131 388 L-125 420 L-134 441 L-131 467 L-98 500 L-72 510 L-78 540 L-45 586 L0 615 L67 705 L150 815"/>
<ellipse class="l" cx="-102" cy="461" rx="12" ry="16" transform="rotate(-25 -102 461)"/>
<ellipse class="l" cx="-52" cy="553" rx="12" ry="16" transform="rotate(-25 -52 553)"/>
<path class="l" d="M-105 395 L150 800 M-85 375 L165 720 M-50 350 L60 540 M75 288 L180 470 M130 258 L150 295 V420 L190 490"/>
<ellipse class="l" cx="97" cy="580" rx="34" ry="42" transform="rotate(-20 97 580)"/>
<ellipse class="l" cx="97" cy="580" rx="18" ry="24" transform="rotate(-20 97 580)"/>
<path class="l" d="M125 560 L160 570 L245 625 M120 615 L190 730 M65 600 L45 560"/>
<ellipse class="l" cx="262" cy="385" rx="76" ry="116" transform="rotate(-20 262 385)"/>
<ellipse class="l" cx="278" cy="388" rx="56" ry="98" transform="rotate(-20 278 388)"/>
<path class="l" d="M215 300 Q190 380 215 440 Q235 480 262 490"/>
<path class="l" d="M238 290 Q215 370 240 440 Q255 470 285 482"/>
<path class="l" d="M145 240 L235 190 L265 205 L270 260 L215 262 L190 285 L170 280 Z"/>
<ellipse class="l" cx="285" cy="222" rx="10" ry="13"/>
<path class="l" d="M250 165 L275 185 L305 190 L325 215 L330 275 L312 270 L310 215 L290 195 L285 175 L365 130"/>
<ellipse class="l" cx="335" cy="318" rx="12" ry="16"/>
<ellipse class="l" cx="375" cy="458" rx="10" ry="14"/>
<ellipse class="l" cx="180" cy="430" rx="12" ry="16"/>
<path class="l" d="M190 470 L200 492 L240 487 M290 498 L280 520 L290 560 L320 590 L250 640 M335 600 L300 640"/>
<ellipse class="f" cx="365" cy="228" rx="26" ry="15"/>
<ellipse class="l" cx="365" cy="228" rx="15" ry="8"/>
<path class="l" d="M340 232 L345 330 L470 390 M392 232 L395 325 L480 375"/>
<path class="l" d="M395 225 L452 222 L478 212 L690 340 L720 360 L770 420 L800 475 M440 228 L660 345 L700 380"/>
<path class="l" d="M365 380 L378 372 L440 410 L425 440 L395 450 L362 425 Z"/>
<path class="l" d="M335 530 L350 510 L490 435 L520 445 L515 500 L420 565 L385 570 L340 555 Z"/>
<path class="l" d="M480 390 L500 375 L520 380 L535 395 L570 400 M490 400 L530 415 L580 455 L625 490"/>
<ellipse class="l" cx="488" cy="408" rx="9" ry="13"/>
<ellipse class="f" cx="665" cy="400" rx="32" ry="17"/>
<ellipse class="l" cx="665" cy="400" rx="18" ry="9"/>
<path class="l" d="M632 405 L635 480 M698 405 L695 530"/>
<path class="l" d="M545 470 Q525 540 535 600 Q550 680 620 750 Q680 780 750 760"/>
<path class="l" d="M570 530 Q590 495 630 510 Q670 560 690 640 L700 690"/>
<path class="l" d="M500 520 Q490 600 520 700 Q570 790 640 810 L720 800"/>
<path class="l" d="M600 520 Q580 600 610 680 Q650 740 700 740"/>
<path class="l" d="M640 490 L660 540 L690 640 L720 670 L740 700 L735 730 L820 775 L830 860 L810 870 L800 790 L740 755"/>
<path class="l" d="M690 775 L700 830 L810 880"/>
<ellipse class="l" cx="718" cy="678" rx="12" ry="18"/>
<ellipse class="l" cx="638" cy="495" rx="8" ry="12"/>
<ellipse class="l" cx="708" cy="832" rx="10" ry="14"/>
<ellipse class="l" cx="822" cy="862" rx="10" ry="14"/>
<ellipse class="f" cx="752" cy="950" rx="22" ry="30" transform="rotate(-20 752 950)"/>
<ellipse class="l" cx="752" cy="950" rx="12" ry="17" transform="rotate(-20 752 950)"/>
<path class="l" d="M748 921 L810 895 Q840 910 830 960 L768 980 M710 870 L790 1060"/>
<path class="l" d="M655 1165 L650 1250 L670 1300 L700 1330 L720 1300 L830 1395 L905 1345 L900 1320 L790 1190 L770 1200 V1290 L830 1340 L880 1318"/>
<path class="l" d="M615 1140 L620 1250 L640 1290 L690 1335 L700 1330"/>
<ellipse class="l" cx="650" cy="1245" rx="10" ry="14"/>
<path class="l" d="M690 1240 L700 1220 L830 1360 M655 1165 L665 1150 L930 990 M660 1175 L900 1035"/>
<path class="l" d="M830 1230 L1290 965 M850 1255 L1300 990 M1010 1095 L1290 930"/>
<ellipse class="f" cx="972" cy="1108" rx="36" ry="42" transform="rotate(-30 972 1108)"/>
<ellipse class="l" cx="972" cy="1108" rx="20" ry="25" transform="rotate(-30 972 1108)"/>
<ellipse class="f" cx="1325" cy="950" rx="36" ry="42" transform="rotate(-30 1325 950)"/>
<ellipse class="l" cx="1325" cy="950" rx="20" ry="25" transform="rotate(-30 1325 950)"/>
<ellipse class="l" cx="902" cy="985" rx="14" ry="21" transform="rotate(-25 902 985)"/>
<path class="l" d="M905 962 L950 870 L985 940 M920 1000 L945 1060"/>
<path class="k" d="M945 1045 L1000 1005 L1085 975 L1110 955 L1075 990 L1020 1015 L1075 1010 L1005 1040 L960 1060 Z"/>
<path class="k" d="M1170 905 L1230 875 L1300 845 L1340 820 L1300 860 L1250 880 L1305 878 L1230 905 L1190 920 Z"/>
<path class="k" d="M1385 790 L1420 770 L1465 760 L1440 780 L1470 775 L1410 800 Z"/>
<path fill="#fff" stroke="none" d="M780 520 L800 495 L860 465 L880 470 L1000 400 L1195 270 L1210 235 Q1250 205 1290 225 L1420 130 L1470 95 L1560 90 L1760 420 L1740 470 L1330 745 L1340 770 L1320 810 L1250 820 L1110 905 L1100 950 L1050 975 L1010 950 L790 560 Z"/>
<path class="l" d="M1760 420 L1560 90 L1470 95 L1420 130 L1290 225 Q1250 205 1210 235 L1195 270 L1000 400 L880 470 L860 465 L800 495 L780 520 L790 560 L1010 950 L1050 975 L1100 950 L1110 905 L1250 820 L1320 810 L1340 770 L1330 745 L1400 700 M1450 668 L1525 622 M1760 420 L1745 465"/>
<path class="l" d="M795 525 L810 505 L865 480 L885 485 L1005 412 L1200 282 L1218 245 Q1250 222 1285 238 L1425 142 L1475 108 L1550 104 M800 560 L1018 940 L1050 960 L1090 942 L1100 898 L1245 808 L1312 800 L1328 772"/>
<ellipse class="l" cx="1050" cy="635" rx="138" ry="148" transform="rotate(-20 1050 635)"/>
<ellipse class="l" cx="1289" cy="508" rx="136" ry="152" transform="rotate(-20 1289 508)"/>
<ellipse class="l" cx="1530" cy="365" rx="138" ry="148" transform="rotate(-20 1530 365)"/>
<ellipse class="l" cx="855" cy="565" rx="20" ry="20"/>
<ellipse class="l" cx="1080" cy="430" rx="20" ry="20"/>
<ellipse class="l" cx="1020" cy="845" rx="20" ry="20"/>
<ellipse class="l" cx="1050" cy="905" rx="20" ry="20"/>
<ellipse class="l" cx="1245" cy="720" rx="20" ry="20"/>
<ellipse class="l" cx="1280" cy="770" rx="20" ry="20"/>
<ellipse class="l" cx="1240" cy="255" rx="20" ry="20"/>
<ellipse class="l" cx="1310" cy="260" rx="18" ry="18"/>
<ellipse class="l" cx="1430" cy="155" rx="16" ry="16"/>
<ellipse class="l" cx="1490" cy="125" rx="20" ry="20"/>
<ellipse class="l" cx="1120" cy="490" rx="12" ry="12"/>
<ellipse class="l" cx="1210" cy="655" rx="12" ry="12"/>
<ellipse class="l" cx="878" cy="482" rx="8" ry="8"/>
<ellipse class="l" cx="1350" cy="350" rx="12" ry="12"/>
<ellipse class="l" cx="1455" cy="520" rx="12" ry="12"/>
<ellipse class="l" cx="1490" cy="575" rx="18" ry="18"/>
<path class="l" d="M890 510 L935 485 L945 500 L905 530 Z M880 650 L895 640 L905 690 L890 700 Z M955 775 L985 790 L1000 815 L975 810 Z M1070 830 L1120 815 L1130 840 L1090 865 Z M1180 790 L1210 745 L1220 755 L1195 800 Z M1110 365 L1160 345 L1165 365 L1120 390 Z M1210 320 L1235 300 L1250 320 L1220 330 Z M1340 240 L1380 215 L1390 235 L1355 260 Z M1410 640 L1435 600 L1445 610 L1420 660 Z"/>
<path class="l" d="M1030 425 Q1000 440 1012 462 M1330 690 Q1295 695 1300 725"/>
<path class="l" d="M870 -175 L965 5 M935 -225 L1010 -75 M715 -90 L810 80 M480 45 L585 225 M675 15 L740 115 M400 85 L540 180 L505 210 M445 160 L475 215 M400 80 L920 -220 M285 125 L300 190"/>
<ellipse class="f" cx="622" cy="-12" rx="28" ry="17"/>
<ellipse class="l" cx="622" cy="-12" rx="16" ry="9"/>
<path class="l" d="M595 0 L600 25 Q625 55 655 40 L655 -5"/>
<path class="l" d="M585 255 L600 225 L680 170 L850 75 L1000 15 Q1050 0 1100 5 Q1150 12 1200 35 Q1260 65 1290 95 Q1330 140 1330 165 Q1325 200 1300 215 L1260 225"/>
<path class="l" d="M600 262 L612 235 L690 182 L855 90 L1000 30 Q1050 15 1095 20 Q1150 28 1190 48 Q1250 80 1275 105 Q1312 145 1312 165 Q1308 195 1290 205"/>
<ellipse class="l" cx="600" cy="285" rx="14" ry="9"/>
<ellipse class="f" cx="700" cy="160" rx="18" ry="10"/>
<path class="l" d="M685 165 L690 285 M718 165 L722 270"/>
<ellipse class="f" cx="865" cy="70" rx="18" ry="10"/>
<path class="l" d="M850 78 L853 180 M882 78 L885 170"/>
<ellipse class="f" cx="1210" cy="75" rx="20" ry="11"/>
<path class="l" d="M1190 82 L1192 195 M1232 82 L1235 200"/>
<ellipse class="f" cx="900" cy="208" rx="38" ry="25"/>
<ellipse class="l" cx="900" cy="208" rx="18" ry="12"/>
<ellipse class="f" cx="1025" cy="190" rx="30" ry="18"/>
<ellipse class="l" cx="1025" cy="190" rx="14" ry="8"/>
<ellipse class="f" cx="1115" cy="250" rx="32" ry="22"/>
<ellipse class="l" cx="1115" cy="250" rx="15" ry="10"/>
<path class="l" d="M1085 255 V280 Q1110 305 1145 285 V255"/>
<ellipse class="l" cx="1105" cy="295" rx="15" ry="10"/>
<ellipse class="l" cx="962" cy="398" rx="12" ry="10"/>
<ellipse class="l" cx="832" cy="428" rx="14" ry="12"/>
<path class="l" d="M720 300 L880 225 L860 210 L940 175 L1000 200 M730 345 L800 310 L840 330 L1010 250 L1090 215 L1140 240 M860 340 L1040 245 L1085 270 L1080 300 L960 365 L900 380 Z M765 385 L800 345 L850 370 L900 395 M740 420 L820 400 L860 390"/>
<path class="l" d="M1040 330 Q1000 305 975 335 Q965 365 1000 380"/>
<path class="l" d="M1140 240 L1190 215 M1090 300 L1200 240"/>
<path class="l" d="M1040 -10 L1060 -50 L1100 -60 L1090 -100 L1140 -135 L1180 -130 L1370 -50 L1380 -20 L1420 40 L1440 70"/>
<path class="l" d="M1120 -50 L1145 -95 L1170 -100 L1330 -30 L1280 0 L1290 30 L1330 45 L1350 15 L1365 60 L1310 95"/>
<path class="l" d="M1090 -100 L1110 -60 L1130 -45 M1000 -70 L985 -50 L1010 0 L1040 -10 M1420 40 L1512 100"/>
<ellipse class="l" cx="1485" cy="120" rx="22" ry="22"/>
<ellipse class="l" cx="1432" cy="153" rx="18" ry="18"/>
<ellipse class="l" cx="1555" cy="150" rx="22" ry="22"/>
<ellipse class="l" cx="1725" cy="445" rx="22" ry="22"/>
<ellipse class="l" cx="1480" cy="570" rx="20" ry="20"/>
<ellipse class="l" cx="1452" cy="520" rx="12" ry="12"/>
<path class="l" d="M1600 215 L1620 205 L1635 245 L1620 250 Z M1688 345 L1705 340 L1715 385 L1695 385 Z M1525 555 L1585 547 L1592 560 L1545 587 Z M1410 655 L1430 600 L1440 605 L1425 660 Z"/>
<path class="l" d="M1311 878 L1638 779 M1316 876 L1395 876 L1574 965 L1564 978 L1361 945"/>
<path class="l" d="M1346 963 L1589 1002 L1623 990 L1648 1000 L1673 995 L1742 950 V916 L1718 876 L1698 859 V806"/>
<path class="l" d="M1524 831 L1638 891 L1668 921 L1676 950 L1673 995 M1589 811 L1678 856"/>
<path class="d" style="stroke-dasharray:70 40 50 40 330 40 50 40" d="M-72 -178 L545 195"/>
<path class="l" d="M545 195 L500 215"/>
<path class="d" style="stroke-dasharray:230 40 50 40" d="M1475 745 L940 430"/>
<path class="l" d="M1475 745 L1565 700"/>
</g>
<g transform="translate(580,1560) scale(0.1984)">
<path class="l" style="stroke-width:12" d="M0 250 L130 600 L190 760 L195 850 L140 865 L120 940 L125 980 L300 1088 L392 1040 V820 L320 775 L300 790 V1085 M392 960 L715 780 M400 820 L560 745 M215 600 L230 580 L270 590 L280 640 L260 720 L235 745 L210 720 L220 660 Z M330 200 L350 190 L440 150 L500 115 L520 130 L510 165 L400 215 L395 250 M345 290 L220 400 L140 580 M335 290 L320 440 L315 690 L340 720 L385 735 L390 690 L385 480 L420 330 L470 280 L540 300 M455 260 L480 235 L510 245 L545 290 V330 L500 340 L490 330 M440 540 L445 480 L500 400 L530 400 L680 540 L685 560 L600 545 L540 550 L440 570 Z M525 400 V545 M415 800 L410 660 L440 610 L500 580 L600 570 L700 610 L830 720 L900 800 L930 870 L920 930 L890 960 L900 1040 M500 780 V740 L545 690 L600 670 L680 690 L760 780 L810 870 L840 1000 L890 1030 M540 580 L545 650 L620 655 L615 590 M620 590 L640 640 L710 670 L715 700 M500 780 L560 815 L565 770 L610 735 L660 740 M560 815 L715 750 M545 190 L570 170 L610 190 L640 260 L650 340 L700 400 L800 480 L960 640 L1040 760 L1060 860 L1055 980 L1020 970 L1000 840 L940 740 L900 770 M545 190 L560 300 L600 400 L720 520 L860 640 L900 690 L940 740 M670 190 L700 160 L740 180 L790 320 L830 350 L820 390 L780 390 L740 340 L720 270 L670 240 Z M895 500 L930 475 L975 520 L965 570 L930 575 Z M1080 640 L1110 610 L1230 610 L1250 650 L1310 665 L1320 645 L1512 700 M1080 640 V700 L1110 780 L1115 990 L1130 1000 L1220 940 L1225 720 L1190 650 M1130 1000 L1180 1100 L1200 1205 L1512 1020 M1225 940 L1280 1000 L1300 1150 M1010 1040 L1030 1010 L1060 1030 L1090 1140 L1080 1170 L1040 1150 L1010 1100 Z M900 1040 L960 1080 L1000 1160 L1080 1210 L1090 1440 L1120 1512"/>
<g class="l" style="stroke-width:12">
<ellipse cx="460" cy="40" rx="22" ry="30"/><ellipse cx="378" cy="235" rx="20" ry="28"/><ellipse cx="258" cy="440" rx="20" ry="28"/><ellipse cx="255" cy="520" rx="18" ry="25"/><ellipse cx="182" cy="635" rx="20" ry="28"/><ellipse cx="250" cy="888" rx="20" ry="28"/><ellipse cx="183" cy="928" rx="20" ry="28"/><ellipse cx="775" cy="125" rx="20" ry="30"/><ellipse cx="685" cy="330" rx="25" ry="32"/><ellipse cx="880" cy="420" rx="20" ry="28"/><ellipse cx="1030" cy="605" rx="20" ry="28"/><ellipse cx="965" cy="890" rx="22" ry="28"/><ellipse cx="1270" cy="615" rx="20" ry="28"/><ellipse cx="1118" cy="1060" rx="20" ry="28"/><ellipse cx="1140" cy="1150" rx="20" ry="28"/>
</g>
</g>
<g transform="translate(1097,1080) scale(0.4)">
<path class="l" d="M262 95 V205"/>
<path class="f" d="M140 298 L165 285 L215 300 L240 280 Q260 275 262 300 L262 340 L290 362 L305 372 L290 388 L265 392 L180 340 L178 318 Z"/>
<path class="l" d="M195 225 Q250 205 290 250 Q320 300 285 340 M215 215 Q270 200 305 245 Q335 300 300 345 M195 225 L215 215 M195 225 L200 240 L225 232"/>
<path class="l" d="M215 300 Q235 330 262 318 M240 345 Q255 365 275 350 M240 345 V320 M275 350 V322"/>
<path class="l" d="M290 388 Q340 425 385 405 Q425 370 420 320 L395 265 M305 372 Q345 405 378 392 Q405 365 402 320 L380 270"/>
<path class="f" d="M340 230 L352 222 L368 238 L395 265 L380 272 L350 245 Z"/>
<path class="l" d="M358 248 L376 240 M366 258 L384 250 M374 268 L392 260 M382 280 L400 272"/>
<path class="t" stroke-width="64" d="M340 1300 Q395 1260 410 1200 Q420 1150 450 1125 L862 823"/><path class="t" stroke-width="64" d="M880 840 Q890 720 1005 642"/><path class="t" stroke-width="64" d="M855 828 L900 832 L1195 1068 Q1245 1115 1195 1162 L985 1305 L850 1380"/><path class="t" stroke-width="64" d="M975 1310 V1432"/><path class="w" stroke-width="51.6" d="M340 1300 Q395 1260 410 1200 Q420 1150 450 1125 L862 823"/><path class="w" stroke-width="51.6" d="M880 840 Q890 720 1005 642"/><path class="w" stroke-width="51.6" d="M855 828 L900 832 L1195 1068 Q1245 1115 1195 1162 L985 1305 L850 1380"/><path class="w" stroke-width="51.6" d="M975 1310 V1432"/>
<path class="l" d="M855 800 Q880 835 925 815"/>
<ellipse class="f" cx="975" cy="1432" rx="36" ry="13"/>
<ellipse class="f" cx="990" cy="640" rx="16" ry="40" transform="rotate(-35 990 640)"/>
<path class="f" d="M985 610 L1040 570 L1085 625 L1030 665 Z"/>
<ellipse class="f" cx="1062" cy="597" rx="28" ry="40" transform="rotate(-35 1062 597)"/>
<ellipse class="l" cx="1064" cy="597" rx="20" ry="30" transform="rotate(-35 1064 597)"/>
<ellipse class="f" cx="340" cy="1300" rx="28" ry="52" transform="rotate(-30 340 1300)"/>
<ellipse class="f" cx="322" cy="1310" rx="28" ry="54" transform="rotate(-30 322 1310)"/>
<ellipse class="f" cx="305" cy="1320" rx="28" ry="54" transform="rotate(-30 305 1320)"/>
<ellipse class="f" cx="285" cy="1330" rx="34" ry="56" transform="rotate(-30 285 1330)"/>
<ellipse class="l" cx="280" cy="1333" rx="22" ry="40" transform="rotate(-30 280 1333)"/>
<path class="l" d="M250 1345 L290 1328"/>
<ellipse class="f" cx="208" cy="1368" rx="32" ry="45" transform="rotate(-25 208 1368)"/>
<ellipse class="l" cx="206" cy="1368" rx="22" ry="34" transform="rotate(-25 206 1368)"/>
<text x="397" y="1485" text-anchor="middle">9</text>
<path class="l" d="M250 1405 L350 1440"/>
<text x="657" y="787" text-anchor="middle">8</text>
<path class="l" d="M655 812 V905"/>
<path class="f" d="M1100 850 L1112 835 L1138 870 V950 L1118 962 L1085 935 L1100 925 Z"/>
<ellipse class="l" cx="1122" cy="875" rx="9" ry="12"/>
<path class="f" d="M1160 842 L1235 805 L1250 835 L1175 868 Q1150 865 1160 842 Z"/>
<path class="l" d="M1180 832 L1192 860 M1195 825 L1207 853 M1210 818 L1222 846 M1225 812 L1237 840"/>
<ellipse class="f" cx="1270" cy="795" rx="28" ry="40" transform="rotate(-20 1270 795)"/>
<path class="f" d="M1235 790 L1255 770 L1278 758 L1290 832 L1262 838 Z"/>
<path class="l" d="M1130 878 L1160 858"/>
<text x="1200" y="667" text-anchor="middle">10</text>
<path class="l" d="M1195 685 V795"/>
<path class="f" d="M790 1275 L860 1255 L935 1300 L880 1330 Z"/>
<path class="k" d="M808 1275 L830 1262 L850 1275 L828 1288 Z"/>
<path class="f" d="M758 1075 Q765 1052 797 1052 Q835 1058 835 1082 L830 1112 Q825 1125 810 1127 L835 1200 Q825 1215 805 1208 L785 1130 Q760 1122 758 1108 Z"/>
<ellipse class="l" cx="797" cy="1075" rx="28" ry="14"/>
<path class="l" d="M790 1150 L818 1142 M795 1168 L824 1160 M800 1186 L830 1178"/>
<path class="l" d="M822 1212 L832 1265"/>
<text x="1015" y="1132" text-anchor="middle">11</text>
<path class="l" d="M855 1088 H945"/>
<path class="f" d="M785 1375 L850 1345 L875 1395 L805 1440 Z"/>
<ellipse class="f" cx="862" cy="1372" rx="16" ry="40" transform="rotate(-25 862 1372)"/>
<ellipse class="f" cx="790" cy="1410" rx="28" ry="40" transform="rotate(-25 790 1410)"/>
<ellipse class="l" cx="793" cy="1410" rx="18" ry="28" transform="rotate(-25 793 1410)"/>
<path class="l" d="M975 1455 V1512"/>
<path class="l" d="M620 1512 L760 1432"/>
</g>
<g transform="translate(0,1620) scale(0.4)">
<path class="d" style="stroke-dasharray:150 16" d="M420 150 V560"/>
<path class="t" stroke-width="50" d="M775 205 Q765 238 700 240 L260 285 Q180 300 165 400 L165 480"/><path class="w" stroke-width="37.6" d="M775 205 Q765 238 700 240 L260 285 Q180 300 165 400 L165 480"/>
<path class="t" stroke-width="68" d="M820 -25 Q720 5 722 75 Q730 130 790 165 L840 220 Q900 310 960 345 Q1050 385 1190 425"/><path class="w" stroke-width="55.6" d="M820 -25 Q720 5 722 75 Q730 130 790 165 L840 220 Q900 310 960 345 Q1050 385 1190 425"/>
<path class="f" d="M125 405 Q165 425 205 405 V430 Q165 450 125 430 Z"/>
<path class="f" d="M125 470 Q165 455 205 470 V490 Q165 505 125 490 Z"/>
<path class="l" d="M128 430 V470 M202 430 V470"/>
<path class="f" d="M240 255 L210 215 Q185 200 172 225 Q170 250 195 262 L230 295 Z"/>
<ellipse class="l" cx="198" cy="238" rx="10" ry="14" transform="rotate(-30 198 238)"/>
<ellipse class="f" cx="790" cy="5" rx="20" ry="50" transform="rotate(-30 790 5)"/>
<ellipse class="f" cx="812" cy="-8" rx="20" ry="52" transform="rotate(-30 812 -8)"/>
<ellipse class="f" cx="835" cy="-21" rx="20" ry="52" transform="rotate(-30 835 -21)"/>
<ellipse class="f" cx="858" cy="-34" rx="20" ry="50" transform="rotate(-30 858 -34)"/>
<path class="f" d="M790 262 Q810 245 835 265 L850 305 Q840 325 815 320 L795 300 Z"/>
<ellipse class="l" cx="815" cy="290" rx="11" ry="16" transform="rotate(-20 815 290)"/>
<path class="f" d="M675 350 L758 305 L775 335 L690 380 Z"/>
<path class="l" d="M712 332 L726 360 M726 325 L740 352 M740 318 L754 345"/>
<ellipse class="f" cx="655" cy="385" rx="32" ry="42" transform="rotate(-25 655 385)"/>
<ellipse class="f" cx="640" cy="392" rx="30" ry="40" transform="rotate(-25 640 392)"/>
<ellipse class="l" cx="637" cy="393" rx="12" ry="16"/>
<path class="l" d="M775 318 L800 300"/>
<text x="643" y="607" text-anchor="middle">7</text>
<path class="l" d="M640 430 V500"/>
<text x="920" y="577" text-anchor="middle">3</text>
<path class="l" d="M920 395 V470"/>
<path class="t" stroke-width="96" d="M1290 470 Q1332 520 1345 640 Q1362 740 1432 800 Q1512 880 1592 882 Q1647 870 1672 790"/><path class="w" stroke-width="83.6" d="M1290 470 Q1332 520 1345 640 Q1362 740 1432 800 Q1512 880 1592 882 Q1647 870 1672 790"/>
<path class="f" d="M1170 400 Q1165 440 1180 470 L1205 480 Q1200 420 1240 390 Q1290 375 1330 420 L1370 500 L1270 540 L1250 500 L1215 490 Z"/>
<path class="l" d="M1188 395 Q1170 430 1190 470"/>
<path class="f" d="M1215 500 Q1205 530 1235 545 L1262 530 L1250 500 Z"/>
<ellipse class="l" cx="1230" cy="522" rx="10" ry="13"/>
<ellipse class="f" cx="1340" cy="440" rx="30" ry="50" transform="rotate(-25 1340 440)"/>
<ellipse class="f" cx="1358" cy="450" rx="28" ry="48" transform="rotate(-25 1358 450)"/>
<path class="l" d="M1380 435 L1480 375"/>
<ellipse class="f" cx="1432" cy="398" rx="36" ry="50" transform="rotate(-15 1432 398)"/>
<ellipse class="l" cx="1428" cy="398" rx="24" ry="38" transform="rotate(-15 1428 398)"/>
<text x="1450" y="652" text-anchor="middle">4</text>
<path class="l" d="M1455 470 V545"/>
<path class="f" d="M1095 585 L1170 548 L1185 575 L1110 612 Z"/>
<path class="l" d="M1128 570 L1140 596 M1142 563 L1154 590 M1156 556 L1168 583"/>
<ellipse class="f" cx="1078" cy="610" rx="30" ry="40" transform="rotate(-25 1078 610)"/>
<ellipse class="f" cx="1063" cy="617" rx="28" ry="38" transform="rotate(-25 1063 617)"/>
<ellipse class="l" cx="1060" cy="618" rx="11" ry="15"/>
<path class="l" d="M1185 552 L1222 528"/>
<text x="1145" y="769" text-anchor="middle">6</text>
<path class="l" d="M1142 620 V680"/>
</g>
<g transform="translate(549,1620) scale(0.4)">
<path class="f" d="M262 740 L245 790 Q290 840 355 800 L385 740 Z"/>
<ellipse class="f" cx="300" cy="795" rx="56" ry="30" transform="rotate(-12 300 795)"/>
<ellipse class="f" cx="308" cy="770" rx="56" ry="30" transform="rotate(-12 308 770)"/>
<ellipse class="f" cx="328" cy="718" rx="52" ry="36" transform="rotate(-10 328 718)"/>
<path class="d" d="M335 715 L365 648 L515 735"/>
<path class="d" d="M535 755 L375 1105"/>
<path class="d" d="M395 1125 L910 1425"/>
<path class="t" stroke-width="92" d="M925 772 L820 840 Q785 880 805 925 Q830 970 880 1000 L1060 1100 Q1160 1140 1260 1118 Q1345 1080 1355 980 L1355 930"/><path class="w" stroke-width="79.6" d="M925 772 L820 840 Q785 880 805 925 Q830 970 880 1000 L1060 1100 Q1160 1140 1260 1118 Q1345 1080 1355 980 L1355 930"/>
<ellipse class="f" cx="935" cy="770" rx="22" ry="50" transform="rotate(-32 935 770)"/>
<ellipse class="f" cx="918" cy="780" rx="20" ry="48" transform="rotate(-32 918 780)"/>
<ellipse class="f" cx="1355" cy="960" rx="50" ry="20"/>
<ellipse class="f" cx="1355" cy="935" rx="50" ry="20"/>
<ellipse class="f" cx="1355" cy="910" rx="48" ry="20"/>
<ellipse class="f" cx="1355" cy="888" rx="46" ry="22"/>
<ellipse class="l" cx="1355" cy="886" rx="30" ry="13"/>
<text x="930" y="1272" text-anchor="middle">15</text>
<path class="l" d="M922 1092 V1175"/>
<ellipse class="f" cx="1018" cy="718" rx="46" ry="60" transform="rotate(-15 1018 718)"/>
<ellipse class="l" cx="1006" cy="712" rx="33" ry="47" transform="rotate(-15 1006 712)"/>
<path class="f" d="M985 665 L1035 655 L1040 690 L1000 695 Z"/>
<path class="l" d="M985 665 V700 M965 760 L1040 720"/>
<text x="1025" y="957" text-anchor="middle">24</text>
<path class="l" d="M1025 800 V865"/>
<path class="d" d="M1060 690 L2135 75"/>
<path class="l" d="M1355 640 V770"/>
<ellipse class="f" cx="1360" cy="782" rx="60" ry="36"/>
<ellipse class="l" cx="1358" cy="774" rx="48" ry="24"/>
<path class="f" d="M1385 790 L1425 780 L1425 815 L1390 828 Z"/>
<path class="l" d="M1355 822 V880"/>
<path class="d" d="M1355 640 L1512 730"/>
<path class="l" d="M830 1540 L1035 1415"/>
<path class="d" d="M380 1440 L495 1380"/>
<path class="d" d="M525 1385 L805 1555"/>
</g>
<g transform="translate(0,1840) scale(0.5026)" style="stroke-width:4.9">
<path class="f" style="stroke-width:4.9" d="M195 150 L258 108 L1240 672 L1165 712 L1165 1430 L165 848 L165 130 Z"/>
<path class="l" style="stroke-width:4.9" d="M195 150 L1165 712"/>
<path class="l" style="stroke-width:4.4" d="M198 172 L318 241 M345 256 L498 344"/>
<path class="l" style="stroke-width:4.4" d="M198 199 L318 268 M345 283 L483 362"/>
<path class="l" style="stroke-width:4.4" d="M198 226 L318 295 M345 310 L468 381"/>
<path class="l" style="stroke-width:4.4" d="M198 253 L318 322 M345 337 L433 388"/>
<path class="l" style="stroke-width:4.4" d="M198 280 L318 349 M345 364 L398 395"/>
<path class="l" style="stroke-width:4.4" d="M198 307 L318 376 M345 391 L363 401"/>
<path class="l" style="stroke-width:4.4" d="M198 334 L318 403"/>
<path class="l" style="stroke-width:4.4" d="M198 361 L293 415"/>
<path class="l" style="stroke-width:4.4" d="M198 388 L258 422"/>
<path class="l" style="stroke-width:4.4" d="M1038 1022 L1160 1092"/>
<path class="l" style="stroke-width:4.4" d="M1024 1036 L1160 1114"/>
<path class="l" style="stroke-width:4.4" d="M961 1022 L1160 1136"/>
<path class="l" style="stroke-width:4.4" d="M947 1036 L1160 1158"/>
<path class="l" style="stroke-width:4.4" d="M885 1022 L1160 1180"/>
<path class="l" style="stroke-width:4.4" d="M871 1036 L1160 1202"/>
<path class="l" style="stroke-width:4.4" d="M808 1022 L1160 1224"/>
<path class="l" style="stroke-width:4.4" d="M794 1036 L1160 1246"/>
<path class="l" style="stroke-width:4.4" d="M732 1022 L1160 1268"/>
<path class="l" style="stroke-width:4.4" d="M718 1036 L1160 1290"/>
<path class="l" style="stroke-width:4.4" d="M655 1022 L1160 1312"/>
<path class="l" style="stroke-width:4.4" d="M641 1036 L1160 1334"/>
<path class="l" style="stroke-width:4.4" d="M579 1022 L1160 1356"/>
<path class="l" style="stroke-width:4.4" d="M565 1036 L1160 1378"/>
<path class="f" style="stroke-width:4.9" d="M105 85 L155 55 L175 57 L215 85 L162 125 L165 845 L115 800 L100 760 Z"/>
<path class="l" style="stroke-width:4.9" d="M105 85 L160 125 M160 125 L165 845"/>
<path class="f" style="stroke-width:4.9" d="M165 130 L240 82 L258 90 L258 108 L192 152 L190 850 L165 848 Z"/>
<path class="l" style="stroke-width:4.9" d="M178 140 L177 848 M165 130 L192 152"/>
<path class="f" style="stroke-width:4.9" d="M1195 728 L1255 690 L1315 730 L1315 745 L1310 1400 Q1300 1450 1255 1468 L1190 1440 Z"/>
<path class="l" style="stroke-width:4.9" d="M1195 728 L1250 765 Q1290 770 1315 740 M1262 775 L1260 1460 M1250 765 L1250 1465"/>
<path class="f" style="stroke-width:4.9" d="M1165 712 L1240 668 L1255 678 L1255 692 L1195 730 L1190 1440 L1165 1430 Z"/>
<path class="l" style="stroke-width:4.9" d="M1180 722 L1178 1435 M1165 712 L1195 730"/>
<path class="f" style="stroke-width:4.9" d="M1298 712 L1358 684 L1396 762 L1316 802 Z"/>
<ellipse class="f" style="stroke-width:4.9" cx="1377" cy="724" rx="20" ry="44" transform="rotate(-25 1377 724)"/>
<ellipse class="l" style="stroke-width:4.9" cx="1370" cy="728" rx="14" ry="38" transform="rotate(-25 1370 728)"/>
<path class="f" style="stroke-width:4.9" d="M212 660 Q225 625 265 622 L330 615 Q380 625 385 660 L378 720 Q360 750 320 752 L300 772 Q260 770 235 740 Q205 700 212 660 Z"/>
<path class="f" style="stroke-width:4.9" d="M222 690 L262 655 L305 690 L300 735 L262 755 Q225 735 222 690 Z"/>
<ellipse class="f" style="stroke-width:4.9" cx="283" cy="695" rx="24" ry="42" transform="rotate(-20 283 695)"/>
<path class="l" style="stroke-width:4.9" d="M330 660 L305 672"/>
<path class="d" style="stroke-width:4;stroke-dasharray:60 14" d="M332 0 L330 660"/>
</g>
<g transform="translate(1097,1620) scale(0.4)">
<path class="d" d="M975 100 V265 L770 395 V515"/>
<path class="d" style="stroke-dasharray:160 16" d="M768 1005 L765 1440"/>
<path class="d" d="M0 640 L370 860"/>
<path class="d" d="M485 905 L895 1140"/>
<path class="l" d="M895 1140 V1085"/>
<text x="955" y="467" text-anchor="middle">26</text>
<path class="l" d="M955 488 V585"/>
<text x="210" y="922" text-anchor="middle">24</text>
<path class="d" d="M70 815 L135 850"/>
<path class="t" stroke-width="42" d="M888 625 L810 572 Q760 545 700 548 Q640 540 600 522 Q540 505 500 535 Q465 580 510 625 L570 660 Q605 690 585 740 Q560 800 480 840 L310 925 Q250 960 245 1050"/><path class="w" stroke-width="29.6" d="M888 625 L810 572 Q760 545 700 548 Q640 540 600 522 Q540 505 500 535 Q465 580 510 625 L570 660 Q605 690 585 740 Q560 800 480 840 L310 925 Q250 960 245 1050"/>
</g>
<g transform="translate(1330,1830) scale(0.22487)">
<path class="f" style="stroke-width:10.8" d="M200 225 Q260 180 340 185 L560 300 Q680 350 760 345 L860 315 L920 315 L960 330 L1070 280 V260 Q1165 190 1260 270 V320 L1300 360 L1360 400 Q1385 450 1340 510 L1310 540 V590 L1280 650 L1110 820 L1105 880 L1110 930 Q1100 960 1020 965 L1000 1030 L960 1100 V1120 Q900 1165 830 1150 Q790 1130 780 1075 L600 975 Q540 1000 495 960 L490 920 L320 820 Q240 760 210 650 L185 490 L150 450 Q120 390 145 340 L175 320 Z"/>
<path class="l" style="stroke-width:10.8" d="M200 225 L165 330 Q165 400 210 440 L840 800 Q900 825 960 800 Q1020 760 1060 670 Q1080 640 1110 620 L1300 490 Q1340 440 1320 380 L1300 350 M130 390 L150 450 L190 490 L1000 950 L1040 965 M210 250 L480 420 M675 525 L800 600 Q880 635 960 615 Q1030 590 1060 530 L1120 480 M920 315 L1150 450 L1170 490 L1215 460 M1300 370 L1270 420 M1110 820 Q1100 740 1140 690 L1300 560 M1075 330 Q1100 370 1160 375 Q1220 370 1250 350 M1075 300 L1135 325 M1215 320 L1255 300 M780 1075 Q880 1120 960 1100 M495 960 Q540 960 600 975"/>
<ellipse class="l" style="stroke-width:10.8" cx="1165" cy="265" rx="95" ry="42"/>
<ellipse class="l" style="stroke-width:10.8" cx="1047" cy="933" rx="32" ry="20"/>
<path class="f" style="stroke-width:10.8" d="M725 262 L760 255 L850 315 L765 335 L725 300 Z"/>
<path class="l" style="stroke-width:10.8" d="M250 925 L555 1105 V1000 M325 855 V950"/>
<ellipse class="f" style="stroke-width:10.8" cx="545" cy="175" rx="22" ry="36" transform="rotate(20 545 175)"/>
<ellipse class="f" style="stroke-width:10.8" cx="650" cy="235" rx="62" ry="70"/>
<ellipse class="l" style="stroke-width:10.8" cx="655" cy="245" rx="35" ry="48"/>
<ellipse class="f" style="stroke-width:10.8" cx="655" cy="160" rx="35" ry="22"/>
<path class="l" style="stroke-width:10.8" d="M570 185 L620 205 M660 235 L730 270"/>
</g>
<g transform="translate(940,1960) scale(0.26455)">
<path class="f" style="stroke-width:9.4" d="M340 580 L440 520 L620 470 L760 420 L830 375 L930 320 L1020 245 L1075 240 L1250 155 Q1330 145 1400 210 Q1435 290 1380 430 L1250 600 L1150 690 L1080 780 L930 720 L1000 620 L1180 420 L1255 345 L1268 330 L1250 322 L1100 400 L900 510 L700 600 L520 650 L440 700 L300 780 L240 640 Z"/>
<path class="f" style="stroke-width:9.4" d="M820 375 L830 350 L930 300 L1000 295 Q1010 250 1025 245 L1075 245 Q1110 270 1120 320 L940 425 L900 380 L870 365 Z"/>
<path class="l" style="stroke-width:9.4" d="M1020 245 Q1090 250 1115 310 M870 365 Q900 340 935 335"/>
<path class="f" style="stroke-width:9.4" d="M940 200 L930 305 Q965 320 1000 300 L1012 240 Z"/>
<ellipse class="f" style="stroke-width:9.4" cx="1000" cy="775" rx="112" ry="48" transform="rotate(22 1000 775)"/>
<ellipse class="f" style="stroke-width:9.4" cx="982" cy="812" rx="118" ry="50" transform="rotate(22 982 812)"/>
<ellipse class="f" style="stroke-width:9.4" cx="965" cy="850" rx="120" ry="50" transform="rotate(22 965 850)"/>
<ellipse class="f" style="stroke-width:9.4" cx="948" cy="888" rx="112" ry="48" transform="rotate(22 948 888)"/>
<path class="f" style="stroke-width:9.4" d="M140 700 L300 590 L440 700 L400 770 L240 880 Z" />
<ellipse class="f" style="stroke-width:9.4" cx="385" cy="675" rx="55" ry="105" transform="rotate(-28 385 675)"/>
<ellipse class="f" style="stroke-width:9.4" cx="340" cy="700" rx="52" ry="105" transform="rotate(-28 340 700)"/>
<ellipse class="f" style="stroke-width:9.4" cx="230" cy="775" rx="55" ry="105" transform="rotate(-28 230 775)"/>
<ellipse class="f" style="stroke-width:9.4" cx="190" cy="795" rx="58" ry="108" transform="rotate(-28 190 795)"/>
<ellipse class="f" style="stroke-width:9.4" cx="150" cy="815" rx="62" ry="110" transform="rotate(-28 150 815)"/>
<ellipse class="f" style="stroke-width:9.4" cx="100" cy="840" rx="68" ry="110" transform="rotate(-28 100 840)"/>
<ellipse class="l" style="stroke-width:9.4" cx="98" cy="842" rx="46" ry="82" transform="rotate(-28 98 842)"/>
<path class="l" style="stroke-width:9.4" d="M0 905 L90 845"/>
<ellipse class="f" style="stroke-width:9.4" cx="835" cy="1035" rx="120" ry="75" transform="rotate(20 835 1035)"/>
<ellipse class="l" style="stroke-width:9.4" cx="850" cy="1015" rx="100" ry="55" transform="rotate(20 850 1015)"/>
<path class="f" style="stroke-width:9.4" d="M690 985 Q720 960 745 990 L750 1050 L720 1075 Q690 1050 690 985 Z"/>
<path class="l" style="stroke-width:9.4" d="M890 950 L840 1040 M520 998 H660 M1165 718 H1330"/>
<path class="d" style="stroke-width:8;stroke-dasharray:330 45 50 45" d="M40 965 L665 1335 L790 1130"/>
<text x="410" y="1056" text-anchor="middle" style="font-size:150px;letter-spacing:-6px">23</text>
<text x="1400" y="781" text-anchor="middle" style="font-size:150px">1</text>
</g>
<g transform="translate(1097,2040) scale(0.4)">
<path class="l" d="M765 0 V290 M765 345 V390"/>
<ellipse class="f" cx="762" cy="298" rx="54" ry="36"/>
<ellipse class="l" cx="762" cy="288" rx="42" ry="24"/>
<path class="f" d="M695 305 L735 318 L735 348 L698 335 Z"/>
<path class="l" d="M765 262 V330"/>
<text x="1010" y="337" text-anchor="middle">24</text>
<path class="l" d="M838 295 H930"/>
<path class="t" stroke-width="66" d="M768 465 L772 520 Q770 560 735 620 Q710 670 715 720 Q715 790 670 840 L640 862"/><path class="w" stroke-width="53.6" d="M768 465 L772 520 Q770 560 735 620 Q710 670 715 720 Q715 790 670 840 L640 862"/>
<ellipse class="f" cx="768" cy="462" rx="42" ry="20"/>
<ellipse class="f" cx="768" cy="438" rx="42" ry="20"/>
<ellipse class="f" cx="768" cy="412" rx="42" ry="20"/>
<ellipse class="f" cx="768" cy="388" rx="42" ry="22"/>
<ellipse class="l" cx="768" cy="386" rx="28" ry="13"/>
<ellipse class="f" cx="668" cy="845" rx="18" ry="40" transform="rotate(-33 668 845)"/>
<ellipse class="f" cx="650" cy="856" rx="18" ry="42" transform="rotate(-33 650 856)"/>
<ellipse class="f" cx="625" cy="870" rx="20" ry="44" transform="rotate(-33 625 870)"/>
<ellipse class="f" cx="600" cy="886" rx="24" ry="44" transform="rotate(-33 600 886)"/>
<ellipse class="l" cx="604" cy="886" rx="14" ry="32" transform="rotate(-33 604 886)"/>
<text x="945" y="735" text-anchor="middle">16</text>
<path class="l" d="M775 690 H865"/>
<text x="395" y="807" text-anchor="middle">25</text>
<path class="l" d="M400 830 L340 910 M400 830 L470 915"/>
<ellipse class="f" cx="272" cy="935" rx="42" ry="44" transform="rotate(-15 272 935)"/>
<ellipse class="l" cx="264" cy="940" rx="28" ry="30" transform="rotate(-15 264 940)"/>
<path class="f" d="M265 888 L305 880 L318 900 L285 915 Z"/>
<ellipse class="f" cx="538" cy="952" rx="46" ry="44" transform="rotate(-15 538 952)"/>
<ellipse class="l" cx="530" cy="958" rx="30" ry="30" transform="rotate(-15 530 958)"/>
<path class="f" d="M495 905 L530 898 L545 918 L510 930 Z"/>
<path class="l" d="M240 905 L290 935 M300 960 L320 990 M505 985 L540 955 M570 915 L610 890"/>
<path class="t" style="stroke-linecap:round" stroke-width="76" d="M112 800 L205 882"/><path class="w" style="stroke-linecap:round" stroke-width="63.6" d="M112 800 L205 882"/>
<ellipse class="f" cx="208" cy="888" rx="32" ry="28" transform="rotate(40 208 888)"/>
<ellipse class="l" cx="210" cy="890" rx="20" ry="17" transform="rotate(40 210 890)"/>
<path class="l" d="M-42 800 H55"/>
<text x="-102" y="835" text-anchor="middle">17</text>
<path class="f" d="M245 1090 L265 1075 L320 1070 L480 1095 L500 1110 L505 1130 L470 1310 L450 1335 L285 1340 L205 1290 Z"/>
<path class="l" d="M245 1090 L305 1140 L320 1120 L490 1110 L505 1130 M305 1140 L270 1320 L285 1340 M312 1140 L278 1322 M268 1100 L318 1122"/>
<ellipse class="l" cx="392" cy="1228" rx="70" ry="88" transform="rotate(15 392 1228)"/>
<path class="l" d="M405 1215 Q385 1200 372 1225 Q365 1250 385 1258"/>
<path class="t" stroke-width="46" d="M335 1090 Q350 1030 312 992"/><path class="w" stroke-width="33.6" d="M335 1090 Q350 1030 312 992"/>
<path class="t" stroke-width="46" d="M432 1092 Q430 1040 492 998"/><path class="w" stroke-width="33.6" d="M432 1092 Q430 1040 492 998"/>
<ellipse class="f" cx="335" cy="1090" rx="26" ry="11"/>
<ellipse class="f" cx="432" cy="1094" rx="26" ry="11"/>
<ellipse class="f" cx="312" cy="992" rx="24" ry="12" transform="rotate(30 312 992)"/>
<ellipse class="f" cx="492" cy="998" rx="24" ry="12" transform="rotate(-35 492 998)"/>
</g>
<rect x="337" y="1256" width="75" height="86" fill="#f00" fill-opacity="0.5"/>

</svg>
<div id="foot">VAG - 4B0121055D     N - 2</div>
</body></html>
